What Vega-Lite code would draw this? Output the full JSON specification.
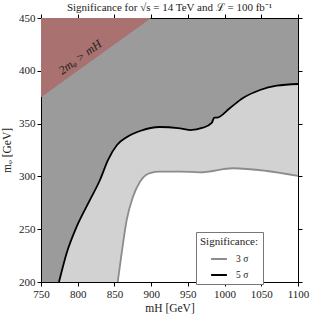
{
  "$schema": "https://vega.github.io/schema/vega-lite/v6.json",
  "width": 257,
  "height": 264,
  "autosize": {"type": "none"},
  "padding": {"left": 41, "top": 18, "right": 16, "bottom": 36},
  "background": "white",
  "title": {"text": "Significance for √s = 14 TeV and ℒ = 100 fb⁻¹", "font": "Liberation Serif", "fontSize": 11, "fontWeight": "normal", "color": "#222", "offset": -1, "anchor": "middle", "frame": "group"},
  "config": {
    "view": {"fill": "#9b9b9b", "stroke": "#000", "strokeWidth": 1},
    "axis": {"labelFont": "Liberation Serif", "labelFontSize": 11, "labelColor": "#222", "titleFont": "Liberation Serif", "titleFontSize": 11.5, "titleFontWeight": "normal", "titleColor": "#222", "domainColor": "#000", "tickColor": "#000", "tickSize": 4, "grid": false, "format": "d"},
    "legend": {"titleFont": "Liberation Serif", "labelFont": "Liberation Serif"}
  },
  "datasets": {
    "sig5": [
      {"mH": 774.5, "mphi": 200}, {"mH": 785, "mphi": 227.5}, {"mH": 798.6, "mphi": 252.4}, {"mH": 816.7, "mphi": 277.7},
      {"mH": 830.3, "mphi": 296.6}, {"mH": 841.2, "mphi": 315.5}, {"mH": 853.5, "mphi": 329.7}, {"mH": 867.1, "mphi": 337.3},
      {"mH": 884.8, "mphi": 343}, {"mH": 912, "mphi": 346.8}, {"mH": 936.6, "mphi": 345.8}, {"mH": 952.9, "mphi": 343.9},
      {"mH": 970.6, "mphi": 346.1}, {"mH": 982.5, "mphi": 350.6}, {"mH": 986, "mphi": 355.6}, {"mH": 989.3, "mphi": 355.6},
      {"mH": 1007.4, "mphi": 364.8}, {"mH": 1025.1, "mphi": 374.2}, {"mH": 1048.2, "mphi": 381.8}, {"mH": 1071, "mphi": 385.9},
      {"mH": 1100, "mphi": 387.5}
    ],
    "sig3": [
      {"mH": 854.5, "mphi": 200}, {"mH": 859.9, "mphi": 227.5}, {"mH": 866.7, "mphi": 258.7}, {"mH": 875.3, "mphi": 280.8},
      {"mH": 884.8, "mphi": 295}, {"mH": 898.4, "mphi": 303.2}, {"mH": 912, "mphi": 304.5}, {"mH": 939.3, "mphi": 304.5},
      {"mH": 966.5, "mphi": 303.9}, {"mH": 1011.5, "mphi": 307.7}, {"mH": 1057.4, "mphi": 305.1}, {"mH": 1100, "mphi": 300.4}
    ],
    "red": [{"mH": 750, "mphi": 375}, {"mH": 900, "mphi": 450}],
    "lines": [
      {"sig": "3 σ", "mH": 854.5, "mphi": 200}, {"sig": "3 σ", "mH": 859.9, "mphi": 227.5}, {"sig": "3 σ", "mH": 866.7, "mphi": 258.7}, {"sig": "3 σ", "mH": 875.3, "mphi": 280.8},
      {"sig": "3 σ", "mH": 884.8, "mphi": 295}, {"sig": "3 σ", "mH": 898.4, "mphi": 303.2}, {"sig": "3 σ", "mH": 912, "mphi": 304.5}, {"sig": "3 σ", "mH": 939.3, "mphi": 304.5},
      {"sig": "3 σ", "mH": 966.5, "mphi": 303.9}, {"sig": "3 σ", "mH": 1011.5, "mphi": 307.7}, {"sig": "3 σ", "mH": 1057.4, "mphi": 305.1}, {"sig": "3 σ", "mH": 1100, "mphi": 300.4},
      {"sig": "5 σ", "mH": 774.5, "mphi": 200}, {"sig": "5 σ", "mH": 785, "mphi": 227.5}, {"sig": "5 σ", "mH": 798.6, "mphi": 252.4}, {"sig": "5 σ", "mH": 816.7, "mphi": 277.7},
      {"sig": "5 σ", "mH": 830.3, "mphi": 296.6}, {"sig": "5 σ", "mH": 841.2, "mphi": 315.5}, {"sig": "5 σ", "mH": 853.5, "mphi": 329.7}, {"sig": "5 σ", "mH": 867.1, "mphi": 337.3},
      {"sig": "5 σ", "mH": 884.8, "mphi": 343}, {"sig": "5 σ", "mH": 912, "mphi": 346.8}, {"sig": "5 σ", "mH": 936.6, "mphi": 345.8}, {"sig": "5 σ", "mH": 952.9, "mphi": 343.9},
      {"sig": "5 σ", "mH": 970.6, "mphi": 346.1}, {"sig": "5 σ", "mH": 982.5, "mphi": 350.6}, {"sig": "5 σ", "mH": 986, "mphi": 355.6}, {"sig": "5 σ", "mH": 989.3, "mphi": 355.6},
      {"sig": "5 σ", "mH": 1007.4, "mphi": 364.8}, {"sig": "5 σ", "mH": 1025.1, "mphi": 374.2}, {"sig": "5 σ", "mH": 1048.2, "mphi": 381.8}, {"sig": "5 σ", "mH": 1071, "mphi": 385.9},
      {"sig": "5 σ", "mH": 1100, "mphi": 387.5}
    ],
    "label": [{"mH": 803, "mphi": 413, "t": "2mᵩ > mH"}]
  },
  "resolve": {"axis": {"x": "independent", "y": "independent"}},
  "layer": [
    {
      "data": {"name": "sig5"},
      "mark": {"type": "area", "color": "#d2d2d2", "orient": "vertical", "interpolate": "monotone"},
      "encoding": {
        "x": {"field": "mH", "type": "quantitative", "scale": {"domain": [750, 1100], "nice": false, "zero": false}, "axis": {"orient": "bottom", "values": [750, 800, 850, 900, 950, 1000, 1050, 1100], "title": "mH [GeV]", "labelFlush": false, "titlePadding": 3}},
        "y": {"field": "mphi", "type": "quantitative", "scale": {"domain": [200, 450], "nice": false, "zero": false}, "axis": {"orient": "left", "values": [200, 250, 300, 350, 400, 450], "title": "mᵩ [GeV]", "labelFlush": false, "titlePadding": 6}},
        "y2": {"datum": 200}
      }
    },
    {
      "data": {"name": "sig3"},
      "mark": {"type": "area", "color": "#ffffff", "orient": "vertical", "interpolate": "monotone"},
      "encoding": {
        "x": {"field": "mH", "type": "quantitative", "axis": null},
        "y": {"field": "mphi", "type": "quantitative", "axis": null},
        "y2": {"datum": 200}
      }
    },
    {
      "data": {"name": "red"},
      "mark": {"type": "area", "color": "#a9716f", "orient": "vertical"},
      "encoding": {
        "x": {"field": "mH", "type": "quantitative", "axis": null},
        "y": {"field": "mphi", "type": "quantitative", "axis": null},
        "y2": {"datum": 450}
      }
    },
    {
      "data": {"name": "lines"},
      "mark": {"type": "line", "strokeWidth": 1.8, "interpolate": "monotone"},
      "encoding": {
        "x": {"field": "mH", "type": "quantitative", "axis": null},
        "y": {"field": "mphi", "type": "quantitative", "axis": null},
        "stroke": {"field": "sig", "type": "nominal", "scale": {"domain": ["3 σ", "5 σ"], "range": ["#8c8c8c", "#000000"]},
          "legend": {"title": "Significance:", "orient": "none", "legendX": 155, "legendY": 214, "fillColor": "#ffffff", "strokeColor": "#777777", "padding": 4, "titleFont": "Liberation Serif", "titleFontSize": 11, "titleFontWeight": "normal", "titleColor": "#222", "titlePadding": 3, "labelFont": "Liberation Serif", "labelFontSize": 9.5, "labelColor": "#222", "symbolType": "stroke", "symbolStrokeWidth": 2, "symbolSize": 250, "titleAnchor": "middle", "rowPadding": 2, "labelOffset": 8, "offset": 0}}
      }
    },
    {
      "data": {"name": "label"},
      "mark": {"type": "text", "angle": -36, "font": "Liberation Serif", "fontStyle": "italic", "fontSize": 12, "color": "#222"},
      "encoding": {
        "x": {"field": "mH", "type": "quantitative", "axis": {"orient": "top", "values": [750, 800, 850, 900, 950, 1000, 1050, 1100], "labels": false, "title": null, "domain": false}},
        "y": {"field": "mphi", "type": "quantitative", "axis": {"orient": "right", "values": [200, 250, 300, 350, 400, 450], "labels": false, "title": null, "domain": false}},
        "text": {"field": "t"}
      }
    }
  ]
}
